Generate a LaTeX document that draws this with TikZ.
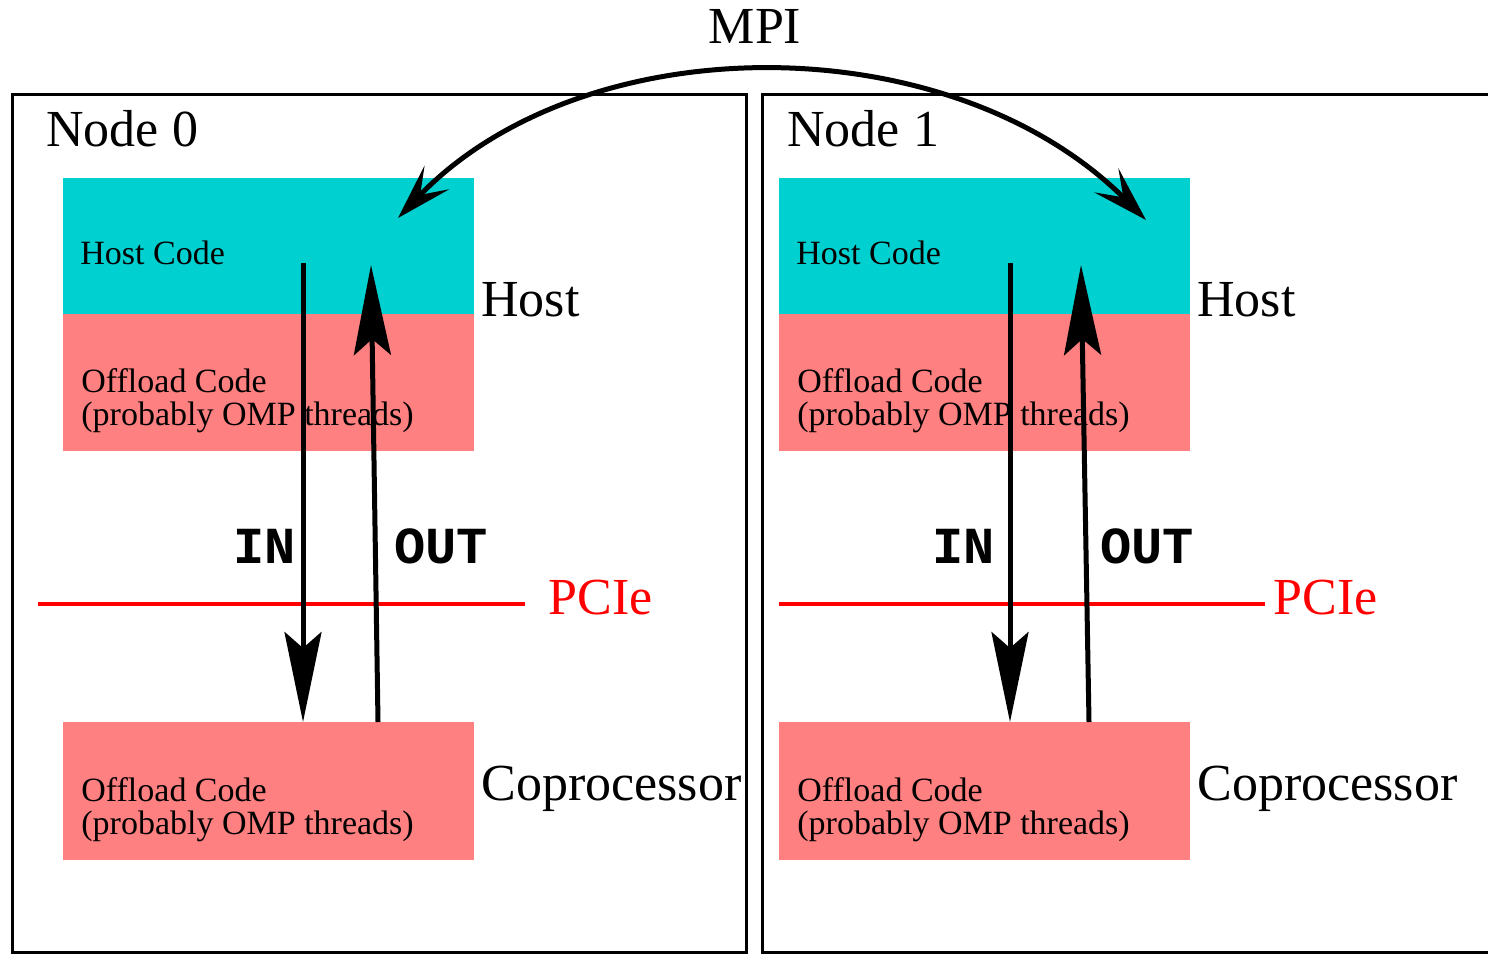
\documentclass[tikz,border=0pt]{standalone}
\usepackage{fontspec}
\setmainfont{Liberation Serif}
\setmonofont{Liberation Mono}
\usetikzlibrary{arrows.meta}
\definecolor{hostc}{RGB}{0,208,208}
\definecolor{offc}{RGB}{255,128,128}
\definecolor{pcic}{RGB}{255,0,0}
\tikzset{
  nodebox/.style={draw=black,line width=1.5pt},
  hostbox/.style={fill=hostc,draw=none,inner sep=0pt,anchor=north west,minimum width=205.5pt,minimum height=68pt},
  offbox/.style={fill=offc,draw=none,inner sep=0pt,anchor=north west,minimum width=205.5pt,minimum height=68.5pt},
  bigtext/.style={font=\fontsize{26}{30}\selectfont,inner sep=0pt,anchor=base west},
  smalltext/.style={font=\fontsize{17}{16}\selectfont,inner sep=0pt,anchor=base west},
  monotext/.style={font=\fontsize{26}{30}\selectfont\ttfamily\bfseries,inner sep=0pt,anchor=base west},
  pciline/.style={draw=pcic,line width=2pt},
  pcitext/.style={bigtext,text=pcic},
  bigarrow/.style={line width=2.5pt,-{Stealth[length=45pt,width=18.5pt,inset=8pt]}},
  mpiarrow/.style={line width=2.5pt,{Stealth[length=28pt,width=17pt,inset=12pt]}-{Stealth[length=28pt,width=17pt,inset=12pt]}}
}
\begin{document}
\begin{tikzpicture}[x=0.5pt,y=-0.5pt]
\useasboundingbox (0,0) rectangle (1488,953);
\begin{scope}
\clip (0,0) rectangle (1488,953);
\draw[nodebox] (12,94) rectangle (746,952);
\draw[nodebox] (762,94) rectangle (1520,952);
\end{scope}
% Node 0
\node[bigtext] (n0) at (46,146) {Node 0};
\node[hostbox] (host0) at (63,178) {};
\node[offbox] (off0) at (63,314) {};
\node[offbox,minimum height=69pt] (cop0) at (63,722) {};
\node[smalltext] (hc0) at (80,264) {Host Code};
\node[smalltext] (oc0) at (81,392) {Offload Code};
\node[smalltext] (ot0) at (81,425) {(probably OMP threads)};
\node[smalltext] (cc0) at (81,801) {Offload Code};
\node[smalltext] (ct0) at (81,834) {(probably OMP threads)};
\node[bigtext] (hl0) at (481,316) {Host};
\node[bigtext] (cl0) at (481,800) {Coprocessor};
\coordinate (pa0) at (38,604);
\coordinate (pb0) at (525,604);
\draw[pciline] (pa0) -- (pb0);
\node[pcitext] (pt0) at (548,614) {PCIe};
\node[monotext] (in0) at (233,563) {IN};
\node[monotext] (out0) at (394,563) {OUT};
\coordinate (ins0) at (303,263);
\coordinate (ine0) at (303,722);
\coordinate (outs0) at (378,722);
\coordinate (oute0) at (371,265);
\draw[bigarrow] (ins0) -- (ine0);
\draw[bigarrow] (outs0) -- (oute0);
% Node 1
\node[bigtext] (n1) at (787,146) {Node 1};
\node[hostbox] (host1) at (779,178) {};
\node[offbox] (off1) at (779,314) {};
\node[offbox,minimum height=69pt] (cop1) at (779,722) {};
\node[smalltext] (hc1) at (796,264) {Host Code};
\node[smalltext] (oc1) at (797,392) {Offload Code};
\node[smalltext] (ot1) at (797,425) {(probably OMP threads)};
\node[smalltext] (cc1) at (797,801) {Offload Code};
\node[smalltext] (ct1) at (797,834) {(probably OMP threads)};
\node[bigtext] (hl1) at (1197,316) {Host};
\node[bigtext] (cl1) at (1197,800) {Coprocessor};
\coordinate (pa1) at (779,604);
\coordinate (pb1) at (1265,604);
\draw[pciline] (pa1) -- (pb1);
\node[pcitext] (pt1) at (1273,614) {PCIe};
\node[monotext] (in1) at (932,563) {IN};
\node[monotext] (out1) at (1100,563) {OUT};
\coordinate (ins1) at (1010,263);
\coordinate (ine1) at (1010,722);
\coordinate (outs1) at (1089,722);
\coordinate (oute1) at (1081,265);
\draw[bigarrow] (ins1) -- (ine1);
\draw[bigarrow] (outs1) -- (oute1);
% MPI
\node[bigtext,anchor=base] (mpi) at (755,43) {MPI};
\coordinate (mpiL) at (398,218);
\coordinate (mpiR) at (1146,220);
\draw[mpiarrow] (mpiL) .. controls (584,24) and (950,24) .. (mpiR);
\end{tikzpicture}
\end{document}
